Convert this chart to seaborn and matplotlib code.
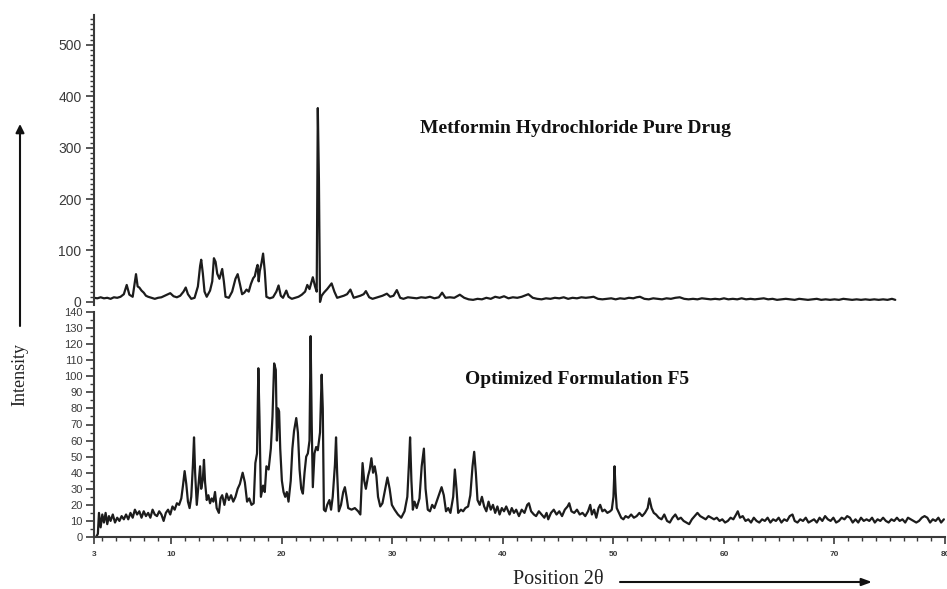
import numpy as np
import pandas as pd
import matplotlib
matplotlib.use("Agg")
import matplotlib.pyplot as plt
from matplotlib.ticker import MultipleLocator, FixedLocator
from matplotlib.patches import FancyArrowPatch
import seaborn as sns

# ---------------- data ----------------
# Metformin Hydrochloride pure drug (top panel)
pure_theta = [3.0, 3.3, 3.6, 3.9, 4.2, 4.5, 4.8, 5.1, 5.4, 5.7, 5.96, 6.2, 6.5, 6.8, 6.95, 7.1, 7.3, 7.5,
              7.7, 7.9, 8.2, 8.5, 8.8, 9.1, 9.4, 9.7, 9.9, 10.2, 10.5, 10.8, 11.1, 11.3, 11.5, 11.8, 12.1,
              12.4, 12.6, 12.7, 12.85, 13.0, 13.2, 13.5, 13.7, 13.85, 14.0, 14.15, 14.35, 14.6, 14.75, 14.9,
              15.2, 15.5, 15.8, 16.0, 16.2, 16.4, 16.6, 16.8, 17.0, 17.2, 17.4, 17.55, 17.7, 17.8, 17.9,
              18.0, 18.15, 18.3, 18.45, 18.6, 18.9, 19.2, 19.5, 19.7, 19.9, 20.1, 20.4, 20.6, 20.9, 21.2,
              21.5, 21.8, 22.1, 22.3, 22.5, 22.8, 23.0, 23.15, 23.25, 23.35, 23.45, 23.6, 23.8, 24.1, 24.5,
              24.75, 25.0, 25.3, 25.6, 25.9, 26.2, 26.5, 26.8, 27.1, 27.4, 27.6, 27.9, 28.2, 28.5, 28.8,
              29.1, 29.5, 29.8, 30.1, 30.4, 30.7, 31.0, 31.4, 31.8, 32.2, 32.6, 33.0, 33.4, 33.8, 34.2,
              34.5, 34.8, 35.2, 35.6, 36.1, 36.5, 36.9, 37.3, 37.7, 38.1, 38.5, 38.9, 39.3, 39.7, 40.1,
              40.5, 40.9, 41.3, 41.7, 42.3, 42.7, 43.1, 43.5, 43.9, 44.3, 44.7, 45.1, 45.5, 45.9, 46.3,
              46.7, 47.1, 47.5, 47.9, 48.2, 48.6, 49.0, 49.4, 49.8, 50.2, 50.6, 51.0, 51.4, 51.8, 52.1,
              52.4, 52.8, 53.2, 53.6, 54.0, 54.4, 54.8, 55.2, 55.6, 56.0, 56.4, 56.8, 57.2, 57.6, 58.0,
              58.4, 58.8, 59.2, 59.6, 60.0, 60.4, 60.8, 61.2, 61.6, 62.0, 62.4, 62.8, 63.2, 63.6, 64.0,
              64.4, 64.8, 65.2, 65.6, 66.0, 66.4, 66.8, 67.2, 67.6, 68.0, 68.4, 68.8, 69.2, 69.6, 70.0,
              70.4, 70.8, 71.2, 71.6, 72.0, 72.4, 72.8, 73.2, 73.6, 74.0, 74.4, 74.8, 75.2, 75.5]
pure_int = [8, 7, 9, 7, 8, 6, 9, 8, 10, 15, 33, 14, 10, 54, 30, 28, 22, 18,
            12, 10, 8, 6, 8, 9, 12, 15, 17, 11, 9, 12, 20, 28, 15, 6, 8,
            30, 70, 82, 55, 20, 10, 22, 40, 85, 78, 55, 45, 64, 40, 10,
            8, 20, 45, 54, 35, 15, 18, 24, 20, 35, 46, 50, 65, 72, 40,
            60, 75, 94, 60, 10, 7, 9, 20, 32, 12, 8, 22, 10, 6, 8,
            10, 14, 20, 33, 25, 48, 30, 20, 377, 240, 0, 12, 18, 25, 36,
            20, 8, 10, 12, 15, 24, 8, 10, 12, 15, 21, 9, 6, 8, 10,
            12, 16, 10, 12, 23, 8, 6, 9, 8, 7, 9, 8, 10, 7, 9,
            18, 8, 9, 8, 14, 8, 5, 4, 6, 5, 8, 6, 10, 8, 11,
            7, 9, 8, 10, 15, 8, 6, 5, 7, 6, 8, 7, 9, 6, 8,
            7, 9, 8, 9, 10, 6, 5, 6, 7, 5, 7, 6, 8, 7, 9,
            10, 6, 5, 7, 6, 5, 7, 6, 8, 9, 6, 5, 6, 5, 7,
            6, 5, 6, 5, 7, 5, 6, 5, 7, 5, 6, 5, 6, 7, 5,
            6, 4, 5, 6, 5, 4, 6, 5, 4, 5, 6, 4, 5, 4, 5,
            4, 6, 5, 4, 5, 4, 5, 4, 5, 4, 5, 4, 6, 4]

# Optimized formulation F5 (bottom panel)
f5_theta = [3.0, 3.2, 3.35, 3.45, 3.6, 3.75, 3.9, 4.05, 4.2, 4.35, 4.5, 4.7, 4.9, 5.1, 5.3, 5.5, 5.7,
            5.9, 6.1, 6.3, 6.5, 6.7, 6.9, 7.1, 7.3, 7.5, 7.7, 7.9, 8.1, 8.3, 8.5, 8.7, 8.9, 9.1, 9.3,
            9.5, 9.7, 9.9, 10.1, 10.3, 10.5, 10.7, 10.9, 11.05, 11.2, 11.35, 11.5, 11.65, 11.8, 11.95,
            12.05, 12.15, 12.3, 12.45, 12.6, 12.7, 12.85, 12.95, 13.05, 13.2, 13.35, 13.5, 13.65, 13.8,
            13.95, 14.1, 14.3, 14.45, 14.6, 14.8, 15.0, 15.2, 15.4, 15.6, 15.8, 16.0, 16.2, 16.45,
            16.65, 16.85, 17.05, 17.25, 17.45, 17.6, 17.75, 17.87, 17.97, 18.1, 18.3, 18.45, 18.6,
            18.8, 19.0, 19.15, 19.3, 19.45, 19.55, 19.65, 19.75, 19.85, 20.0, 20.15, 20.3, 20.45,
            20.6, 20.8, 20.95, 21.1, 21.3, 21.45, 21.6, 21.75, 21.9, 22.05, 22.2, 22.35, 22.5, 22.6,
            22.7, 22.8, 22.95, 23.1, 23.25, 23.45, 23.6, 23.7, 23.8, 23.95, 24.1, 24.3, 24.45, 24.6,
            24.8, 24.9, 25.0, 25.15, 25.35, 25.55, 25.7, 25.85, 26.0, 26.3, 26.6, 26.9, 27.1, 27.3,
            27.45, 27.6, 27.8, 27.95, 28.1, 28.25, 28.4, 28.55, 28.7, 28.9, 29.1, 29.3, 29.55, 29.75,
            29.95, 30.2, 30.5, 30.8, 31.1, 31.35, 31.5, 31.6, 31.72, 31.85, 32.0, 32.2, 32.45, 32.65,
            32.85, 33.0, 33.2, 33.4, 33.6, 33.8, 34.0, 34.2, 34.45, 34.65, 34.85, 35.05, 35.25, 35.5,
            35.65, 35.8, 35.95, 36.2, 36.4, 36.6, 36.85, 37.05, 37.25, 37.4, 37.55, 37.7, 37.9, 38.1,
            38.3, 38.5, 38.7, 38.9, 39.1, 39.3, 39.5, 39.7, 39.9, 40.1, 40.3, 40.6, 40.8, 41.0, 41.2,
            41.45, 41.7, 41.95, 42.2, 42.35, 42.55, 42.8, 43.0, 43.25, 43.5, 43.75, 43.95, 44.1, 44.35,
            44.6, 44.85, 45.1, 45.35, 45.6, 45.85, 46.0, 46.2, 46.45, 46.7, 46.95, 47.2, 47.45, 47.7,
            47.9, 48.05, 48.25, 48.45, 48.65, 48.8, 49.0, 49.2, 49.45, 49.7, 49.85, 50.0, 50.1, 50.2,
            50.3, 50.5, 50.7, 50.9, 51.1, 51.35, 51.6, 51.85, 52.1, 52.35, 52.6, 52.85, 53.1, 53.25,
            53.45, 53.65, 53.85, 54.1, 54.35, 54.6, 54.85, 55.1, 55.35, 55.6, 55.85, 56.1, 56.35, 56.6,
            56.85, 57.1, 57.35, 57.6, 57.85, 58.1, 58.35, 58.6, 58.85, 59.1, 59.35, 59.6, 59.85, 60.1,
            60.35, 60.6, 60.85, 61.1, 61.25, 61.45, 61.7, 61.95, 62.2, 62.45, 62.7, 62.95, 63.2, 63.45,
            63.7, 63.95, 64.2, 64.45, 64.7, 64.95, 65.2, 65.45, 65.7, 65.95, 66.2, 66.4, 66.65, 66.9,
            67.15, 67.4, 67.65, 67.9, 68.15, 68.4, 68.65, 68.9, 69.15, 69.4, 69.65, 69.9, 70.15, 70.4,
            70.65, 70.9, 71.15, 71.4, 71.65, 71.9, 72.15, 72.4, 72.65, 72.9, 73.15, 73.4, 73.65, 73.9,
            74.15, 74.4, 74.65, 74.9, 75.15, 75.4, 75.65, 75.9, 76.15, 76.4, 76.65, 76.9, 77.15, 77.4,
            77.65, 77.9, 78.15, 78.4, 78.65, 78.9, 79.15, 79.4, 79.65, 79.9]
f5_int = [0, 0, 2, 15, 6, 14, 9, 15, 8, 13, 10, 14, 9, 12, 10, 13, 11,
          14, 11, 15, 12, 17, 14, 16, 12, 16, 13, 15, 12, 17, 14, 13, 16, 14, 10,
          15, 17, 14, 19, 17, 21, 20, 24, 32, 41, 33, 22, 18, 25, 45,
          62, 40, 20, 32, 44, 30, 36, 48, 34, 23, 26, 21, 24, 22,
          28, 18, 15, 24, 26, 20, 27, 23, 26, 22, 25, 30, 33, 40,
          34, 22, 24, 20, 21, 46, 52, 105, 75, 25, 32, 28, 44,
          42, 55, 75, 108, 104, 60, 80, 78, 55, 35, 28, 25, 28,
          22, 35, 55, 66, 74, 65, 42, 30, 27, 40, 50, 52, 60, 125,
          70, 31, 52, 56, 54, 65, 101, 80, 17, 16, 20, 23, 17, 25,
          45, 62, 40, 16, 20, 28, 31, 25, 18, 17, 18, 16, 14, 46,
          35, 30, 38, 42, 49, 40, 44, 38, 25, 19, 21, 28, 37, 30,
          20, 17, 14, 12, 16, 25, 46, 62, 35, 17, 22, 18, 24, 44,
          55, 30, 17, 16, 20, 18, 22, 26, 31, 26, 16, 18, 15, 25,
          42, 30, 15, 17, 16, 18, 19, 26, 44, 53, 40, 23, 20, 25,
          19, 16, 22, 17, 20, 15, 19, 14, 18, 16, 19, 14, 18, 15, 17,
          13, 17, 15, 20, 21, 16, 14, 13, 16, 14, 12, 15, 11, 15,
          17, 14, 16, 13, 17, 19, 21, 16, 15, 17, 14, 15, 13, 16,
          20, 14, 17, 12, 18, 20, 16, 17, 15, 16, 17, 25, 44, 28,
          18, 15, 12, 11, 13, 12, 14, 12, 13, 15, 13, 15, 18, 24,
          18, 15, 14, 12, 11, 14, 10, 9, 12, 14, 11, 12, 10, 9,
          8, 11, 13, 15, 13, 12, 11, 13, 12, 11, 12, 10, 11, 9,
          10, 12, 11, 14, 16, 12, 13, 10, 11, 9, 12, 10, 9, 11,
          10, 12, 9, 11, 10, 12, 9, 11, 10, 13, 14, 10, 9, 11,
          10, 12, 9, 10, 11, 9, 12, 10, 13, 11, 10, 12, 9, 10,
          12, 11, 13, 12, 9, 11, 9, 12, 10, 11, 10, 12, 9, 11,
          10, 12, 10, 9, 11, 10, 12, 10, 11, 9, 12, 11, 10, 9,
          10, 12, 13, 12, 9, 11, 10, 12, 9, 11]

x_ticks = [3, 10, 20, 30, 40, 50, 60, 70, 80]
top_yticks = [0, 100, 200, 300, 400, 500]
bot_yticks = list(range(0, 141, 10))

pure_df = pd.DataFrame({"theta": pure_theta, "intensity": pure_int})
f5_df = pd.DataFrame({"theta": f5_theta, "intensity": f5_int})

# ---------------- figure ----------------
sns.set_theme(style="white")
plt.rcParams["font.family"] = ["Liberation Sans", "DejaVu Sans"]

W, H = 947, 589
fig = plt.figure(figsize=(W / 100, H / 100), dpi=100)

def fx(px):
    return px / W

def fy(py):
    return 1 - py / H

line_col = "#1c1c1c"
tick_col = "#3a3a3a"

# top panel: x 94..945, y 15..305
ax_top = fig.add_axes([fx(94), fy(305), fx(945) - fx(94), fy(15) - fy(305)])
# bottom panel: x 94..945, y 312..537
ax_bot = fig.add_axes([fx(94), fy(537), fx(945) - fx(94), fy(312) - fy(537)])

sns.lineplot(data=pure_df, x="theta", y="intensity", ax=ax_top, color=line_col,
             lw=1.6, estimator=None, sort=False)
sns.lineplot(data=f5_df, x="theta", y="intensity", ax=ax_bot, color=line_col,
             lw=1.6, estimator=None, sort=False)

for ax in (ax_top, ax_bot):
    ax.set_xlim(3, 80)
    ax.set_xlabel("")
    ax.set_ylabel("")
    ax.set_facecolor("none")
    for s in ("top", "right"):
        ax.spines[s].set_visible(False)
    ax.spines["left"].set_color(tick_col)
    ax.spines["left"].set_linewidth(1.5)

# top axes styling
ax_top.set_ylim(-6, 558)
ax_top.spines["bottom"].set_visible(False)
ax_top.set_xticks([])
ax_top.yaxis.set_major_locator(FixedLocator(top_yticks))
ax_top.yaxis.set_minor_locator(MultipleLocator(10))
ax_top.tick_params(axis="y", which="major", direction="out", length=6, width=1.2,
                   colors=tick_col, labelsize=10, pad=3, left=True)
ax_top.tick_params(axis="y", which="minor", direction="out", length=3, width=1.0,
                   colors=tick_col, left=True)

# bottom axes styling
ax_bot.set_ylim(0, 140)
ax_bot.spines["bottom"].set_color(tick_col)
ax_bot.spines["bottom"].set_linewidth(1.5)
ax_bot.yaxis.set_major_locator(FixedLocator(bot_yticks))
ax_bot.yaxis.set_minor_locator(MultipleLocator(5))
ax_bot.xaxis.set_major_locator(FixedLocator(x_ticks))
ax_bot.xaxis.set_minor_locator(MultipleLocator(1.25))
ax_bot.tick_params(axis="y", which="major", direction="out", length=6, width=1.2,
                   colors=tick_col, labelsize=8, pad=2, left=True)
ax_bot.tick_params(axis="y", which="minor", direction="out", length=3, width=1.0,
                   colors=tick_col, left=True)
ax_bot.tick_params(axis="x", which="major", direction="out", length=5, width=1.2,
                   colors=tick_col, labelsize=6, pad=5, bottom=True)
ax_bot.tick_params(axis="x", which="minor", direction="out", length=3, width=1.0,
                   colors=tick_col, bottom=True)
ax_bot.set_xticklabels([str(t) for t in x_ticks], fontweight="bold")

# panel titles
serif = ["Liberation Serif", "DejaVu Serif"]
fig.text(fx(576), fy(128), "Metformin Hydrochloride Pure Drug", ha="center", va="center",
         fontsize=14, fontweight="bold", family=serif, color="#111111")
fig.text(fx(577), fy(380), "Optimized Formulation F5", ha="center", va="center",
         fontsize=14, fontweight="bold", family=serif, color="#111111")

# axis captions with arrows
fig.text(fx(20), fy(374), "Intensity", ha="center", va="center", rotation=90,
         fontsize=13, family=serif, color="#222222")
fig.add_artist(FancyArrowPatch((fx(20), fy(326)), (fx(20), fy(124)), transform=fig.transFigure,
                               arrowstyle="-|>,head_length=5,head_width=2.5", color="#111111",
                               lw=1.5, shrinkA=0, shrinkB=0))
fig.text(fx(558), fy(579), "Position 2θ", ha="center", va="center",
         fontsize=14.5, family=serif, color="#222222")
fig.add_artist(FancyArrowPatch((fx(620), fy(582)), (fx(872), fy(582)), transform=fig.transFigure,
                               arrowstyle="-|>,head_length=6,head_width=2.2", color="#111111",
                               lw=1.5, shrinkA=0, shrinkB=0))

fig.savefig("out.png", dpi=100, facecolor="white")
